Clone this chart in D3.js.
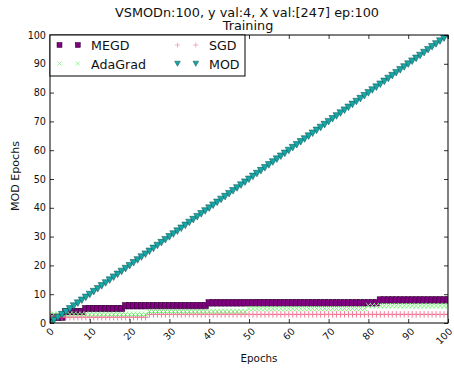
<!DOCTYPE html>
<html><head><meta charset="utf-8">
<script src="https://cdn.jsdelivr.net/npm/d3@7"></script>
<style>body{margin:0;background:#fff}text{font-family:"DejaVu Sans",sans-serif}</style>
</head><body><svg id="c" width="454" height="369"></svg>
<script>
const epochs = d3.range(0, 101);
// step levels: [startEpoch, value]
const megdSteps = [[0,2],[4,4],[9,5],[19,6],[40,7],[83,8]];
const adagradSteps = [[0,3],[25,4],[50,5],[80,6]];
const sgdSteps = [[0,2],[25,3]];
const modValues = epochs.map(e => e);
const seriesNames = ["MEGD","AdaGrad","SGD","MOD"];
const xTicks = [0,10,20,30,40,50,60,70,80,90,100];
const yTicks = [0,10,20,30,40,50,60,70,80,90,100];
const titleLines = ["VSMODn:100, y val:4, X val:[247] ep:100", "Training"];
const xLabel = "Epochs", yLabel = "MOD Epochs";

function expand(steps){return epochs.map(e=>{let v=steps[0][1];for(const s of steps){if(e>=s[0])v=s[1];}return v;});}
const series = [
  {name:seriesNames[0], vals: expand(megdSteps), type:"square", fill:"#800080", stroke:"#2a002a", lg:"#800080"},
  {name:seriesNames[1], vals: expand(adagradSteps), type:"x", fill:"none", stroke:"#7cf87c", lg:"#7cf87c"},
  {name:seriesNames[2], vals: expand(sgdSteps), type:"plus", fill:"none", stroke:"#f06888", lg:"#f4a6b8"},
  {name:seriesNames[3], vals: modValues, type:"tri", fill:"#16a6a6", stroke:"#0b4d4d", lg:"#16a6a6"}
];

const svg = d3.select("#c");
const L=50,R=448,T=35,B=323;
const x = d3.scaleLinear().domain([0,100]).range([L,R]);
const y = d3.scaleLinear().domain([0,100]).range([B,T]);

function fit(sel, target){ // scale font size so text width matches the reference width
  const n=sel.node(); const fs=+sel.attr("font-size"); const w=n.getComputedTextLength();
  if(w>0) sel.attr("font-size", (fs*target/w).toFixed(2));
  return sel;
}

function marker(g, type, fill, stroke){
  if(type==="square") g.append("rect").attr("x",-3.2).attr("y",-3.2).attr("width",6.4).attr("height",6.4).attr("fill",fill).attr("stroke",stroke).attr("stroke-width",0.5);
  else if(type==="tri") g.append("path").attr("d","M-3.6,-3L3.6,-3L0,3.6Z").attr("fill",fill).attr("stroke",stroke).attr("stroke-width",0.5);
  else if(type==="x") g.append("path").attr("d","M-2.7,-2.7L2.7,2.7M-2.7,2.7L2.7,-2.7").attr("stroke",stroke).attr("stroke-width",1);
  else if(type==="plus") g.append("path").attr("d","M-3,0L3,0M0,-3.2L0,3.2").attr("stroke",stroke).attr("stroke-width",1).attr("opacity",0.85);
}

svg.append("rect").attr("x",L).attr("y",T).attr("width",R-L).attr("height",B-T).attr("fill","#fff");
svg.append("clipPath").attr("id","cp").append("rect").attr("x",L).attr("y",T).attr("width",R-L).attr("height",B-T);
const plot = svg.append("g").attr("clip-path","url(#cp)");
series.forEach(s=>{
  const g = plot.append("g");
  epochs.forEach((e,i)=>{
    const m = g.append("g").attr("transform",`translate(${x(e)},${y(s.vals[i])})`);
    marker(m, s.type, s.fill, s.stroke);
  });
});

// axes with inward ticks on all four sides
const ax = svg.append("g");
const xb = ax.append("g").attr("transform",`translate(0,${B})`).call(d3.axisBottom(x).tickValues(xTicks).tickSize(-4).tickSizeOuter(0).tickFormat(""));
xb.select(".domain").remove();
const xt = ax.append("g").attr("transform",`translate(0,${T})`).call(d3.axisTop(x).tickValues(xTicks).tickSize(-4).tickSizeOuter(0).tickFormat(""));
xt.select(".domain").remove();
const yl = ax.append("g").attr("transform",`translate(${L},0)`).call(d3.axisLeft(y).tickValues(yTicks).tickSize(-4).tickSizeOuter(0).tickPadding(4));
yl.select(".domain").remove();
yl.selectAll("text").attr("font-size",10).attr("fill","#111");
const yr = ax.append("g").attr("transform",`translate(${R},0)`).call(d3.axisRight(y).tickValues(yTicks).tickSize(-4).tickSizeOuter(0).tickFormat(""));
yr.select(".domain").remove();
ax.selectAll(".tick line").attr("stroke","#000").attr("stroke-width",0.8);
ax.append("rect").attr("x",L).attr("y",T).attr("width",R-L).attr("height",B-T).attr("fill","none").attr("stroke","#000").attr("stroke-width",1);

// fit tick label font to reference ("100" ~18.4px wide)
const probe = fit(svg.append("text").attr("font-size",10).text("100"), 18.4);
const tfs = +probe.attr("font-size"); probe.remove();
yl.selectAll("text").attr("font-size",tfs);

// rotated x tick labels: rotated bbox centered on tick, top at ~327
const xlab = svg.append("g");
xTicks.forEach(v=>{
  const t = xlab.append("text").attr("font-size",tfs).attr("fill","#111").attr("text-anchor","middle").text(v);
  const w = t.node().getComputedTextLength(); const h = 0.73*tfs;
  const half = (w/2 + h/2)*Math.SQRT1_2;
  const cx = Math.min(x(v), 453 - half), cy = 327 + half;
  t.attr("x",cx).attr("y",cy + h/2).attr("transform",`rotate(-45,${cx},${cy})`);
});

// axis labels
fit(svg.append("text").attr("x",259).attr("y",362).attr("text-anchor","middle").attr("font-size",10).attr("fill","#111").text(xLabel), 37);
fit(svg.append("text").attr("transform",`translate(18.5,176) rotate(-90)`).attr("text-anchor","middle").attr("font-size",10).attr("fill","#111").text(yLabel), 70);
const t1 = fit(svg.append("text").attr("x",247).attr("y",16.5).attr("text-anchor","middle").attr("font-size",13).attr("fill","#111").text(titleLines[0]), 264);
svg.append("text").attr("x",248).attr("y",30).attr("text-anchor","middle").attr("font-size",t1.attr("font-size")).attr("fill","#111").text(titleLines[1]);

// legend
const lg = svg.append("g");
lg.append("rect").attr("x",L).attr("y",T).attr("width",195).attr("height",41).attr("fill","#fff").attr("stroke","#000").attr("stroke-width",1);
const pos = [[59.5,45],[59.5,63.5],[177.5,45],[177.5,63.5]];
let lfs = null;
series.forEach((s,i)=>{
  const [px,py]=pos[i];
  [0,18.3].forEach(dx=>{const m=lg.append("g").attr("transform",`translate(${px+dx},${py})`);
    if(s.type==="square"){m.append("rect").attr("x",-2.5).attr("y",-2.5).attr("width",5).attr("height",5).attr("fill",s.lg).attr("stroke",s.stroke).attr("stroke-width",0.5);}
    else if(s.type==="tri"){m.append("path").attr("d","M-2.8,-2.3L2.8,-2.3L0,2.8Z").attr("fill",s.lg).attr("stroke",s.stroke).attr("stroke-width",0.5);}
    else if(s.type==="x"){m.append("path").attr("d","M-2,-2L2,2M-2,2L2,-2").attr("stroke",s.lg).attr("stroke-width",0.8);}
    else {m.append("path").attr("d","M-2.5,0L2.5,0M0,-2.5L0,2.5").attr("stroke",s.lg).attr("stroke-width",0.9);}
  });
  const t = lg.append("text").attr("x",px+31.5).attr("y",py+5).attr("font-size",13).attr("fill","#111").text(s.name);
  if(i===1){ fit(t,55); lfs=t.attr("font-size"); }
});
lg.selectAll("text").attr("font-size",lfs);
</script></body></html>
